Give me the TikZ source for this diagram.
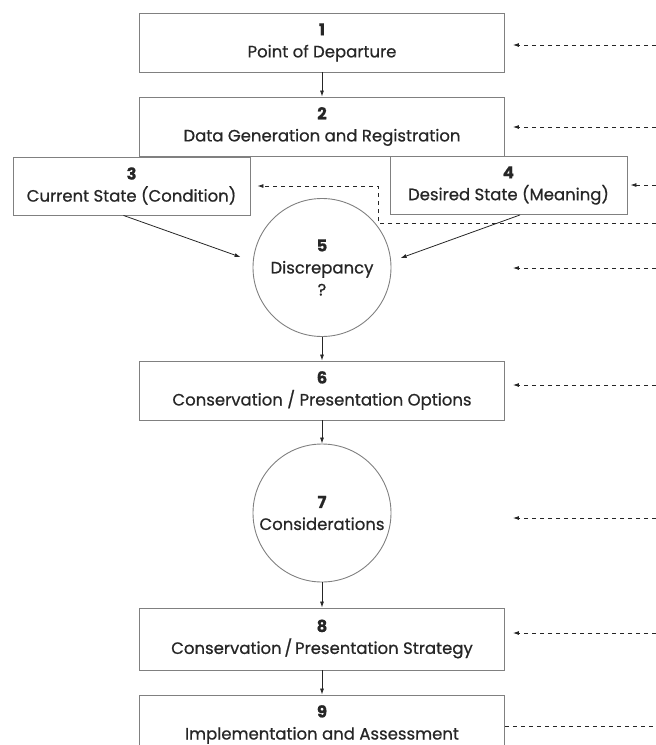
\documentclass[tikz,border=0pt]{standalone}
\usepackage{fontspec}
\setmainfont{Poppins}[FakeBold=0.7]
\usetikzlibrary{arrows.meta}

\begin{document}
\begin{tikzpicture}[x=1pt, y=-1pt,
        box/.style = {draw=black!50, line width=0.9pt, minimum width=365pt, minimum height=59pt,
            inner sep=0pt, align=center, text=black!85, font=\fontsize{16.5}{22}\selectfont},
        smallbox/.style = {box, minimum width=237pt, minimum height=58pt},
        ring/.style = {box, circle, minimum width=0pt, minimum size=138pt},
        arr/.style = {-{Latex[length=6pt,width=4pt]}, line width=0.8pt, black!85},
        fb/.style = {arr, dash pattern=on 4pt off 4pt, shorten >=8pt}
    ]
    \useasboundingbox (0,0) rectangle (656,745);
    % main column
    \node[box] (b1) at (322,42.5) {\textbf{1}\\Point of Departure};
    \node[box] (b2) at (322,126.5) {\textbf{2}\\Data Generation and Registration};
    \node[smallbox] (b3) at (131.5,186) {\textbf{3}\\Current State (Condition)};
    \node[smallbox] (b4) at (508.5,185.5) {\textbf{4}\\Desired State (Meaning)};
    \node[ring] (b5) at (322,267.5) {\textbf{5}\\Discrepancy\\?};
    \node[box] (b6) at (322,390.5) {\textbf{6}\\Conservation / Presentation Options};
    \node[ring] (b7) at (322,513) {\textbf{7}\\Considerations};
    \node[box, minimum height=62pt] (b8) at (322,639) {\textbf{8}\\Conservation\,/\,Presentation Strategy};
    \node[box] (b9) at (322,724.5) {\textbf{9}\\Implementation and Assessment};
    \foreach \a/\b in {b1/b2, b5/b6, b6/b7, b7/b8, b8/b9}
        \draw[arr] (\a) -- (\b);
    \draw[arr, shorten >=13pt] ([xshift=-8pt]b3.south) -- (b5.175);
    \draw[arr, shorten >=10pt] ([xshift=11.5pt]b4.south) -- (b5.5);
    % feedback from the right
    \foreach \n/\y in {1/45, 2/127, 3/223, 4/185, 5/268, 6/385, 7/518, 8/633, 9/726}
        \coordinate (r\n) at (656,\y);
    \coordinate (k3) at (378,223);
    \foreach \n in {1,2,5,6,7,8}
        \draw[fb] (r\n) -- (r\n -| b1.east);
    \draw[fb, shorten >=3pt] (r4) -- (r4 -| b4.east);
    \draw[fb, shorten >=7pt] (r3) -- (k3) |- (b3.east);
    \draw[black!85, line width=0.8pt, dash pattern=on 4pt off 4pt] (r9 -| b9.east) -- (r9);
\end{tikzpicture}
\end{document}
